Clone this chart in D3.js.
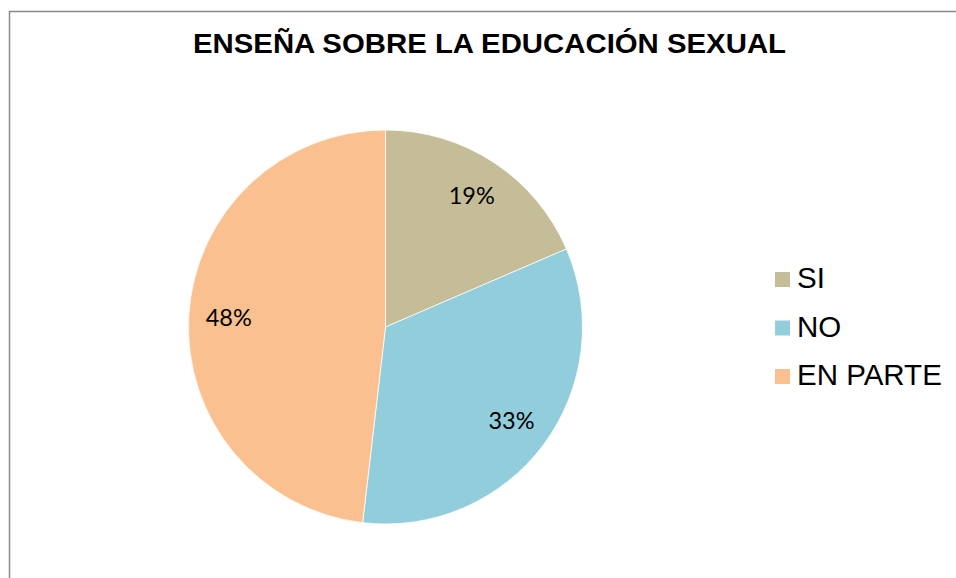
<!DOCTYPE html>
<html>
<head>
	<meta charset="utf-8">
	<title>educacion sexual</title>
	<script src="https://cdnjs.cloudflare.com/ajax/libs/d3/7.8.5/d3.min.js"></script>
	<style>
		body { margin:0; background:#fff; }
		svg { display:block; }
	</style>
</head>
<body>
	<svg width="956" height="578"></svg>
	<script type="text/javascript">

		var categories = ["SI", "NO", "EN PARTE"];
		var counts = [5, 9, 13];
		var colors = ["#C4BD97", "#92CDDC", "#FAC090"];
		var title = "ENSEÑA SOBRE LA EDUCACIÓN SEXUAL";

		var data = categories.map(function(c, i) { return {cat: c, value: counts[i], color: colors[i]} });
		var total = d3.sum(counts);
		var pct = d3.format(".0%");

		var svg = d3.select("svg");

		// chart frame, only top and left edges show
		svg.append("rect")
			.attr("x", 9.5).attr("y", 11.5)
			.attr("width", 1000).attr("height", 700)
			.style("fill", "none")
			.style("stroke", "#8a8a8a")
			.style("stroke-width", "1.5px");

		svg.append("text")
			.attr("x", 489.5).attr("y", 53)
			.attr("text-anchor", "middle")
			.attr("textLength", 593)
			.attr("lengthAdjust", "spacingAndGlyphs")
			.style("font-family", "'Liberation Sans', Arial, sans-serif")
			.style("font-weight", "bold")
			.style("font-size", "28.5px")
			.text(title);

		var cx = 385.5, cy = 327, radius = 197;

		var pie = d3.pie().sort(null).value(function(d) { return d.value });
		var arc = d3.arc().innerRadius(0).outerRadius(radius);
		var labelArc = d3.arc().innerRadius(157).outerRadius(157);

		var g = svg.append("g").attr("transform", "translate(" + cx + "," + cy + ")");
		var slices = pie(data);

		g.selectAll("path")
			.data(slices)
			.enter()
			.append("path")
			.attr("d", arc)
			.style("fill", function(d) { return d.data.color })
			.style("stroke", "#fff")
			.style("stroke-width", "0.75px");

		g.selectAll("text")
			.data(slices)
			.enter()
			.append("text")
			.attr("transform", function(d) { return "translate(" + labelArc.centroid(d) + ")" })
			.attr("text-anchor", "middle")
			.attr("dy", "0.35em")
			.style("font-family", "Lato, 'Open Sans', sans-serif")
			.style("font-size", "23.5px")
			.style("fill", "#000")
			.text(function(d) { return pct(d.data.value / total) });

		var legend = svg.selectAll(".leg")
			.data(data)
			.enter()
			.append("g")
			.attr("class", "leg")
			.attr("transform", function(d, i) { return "translate(775," + (288 + i * 48.5) + ")" });

		legend.append("rect")
			.attr("x", 0).attr("y", -16)
			.attr("width", 15).attr("height", 15)
			.style("fill", function(d) { return d.color });

		legend.append("text")
			.attr("x", 22).attr("y", 0)
			.style("font-family", "'Liberation Sans', Arial, sans-serif")
			.style("font-size", "29.5px")
			.text(function(d) { return d.cat });
	</script>
</body>
</html>
